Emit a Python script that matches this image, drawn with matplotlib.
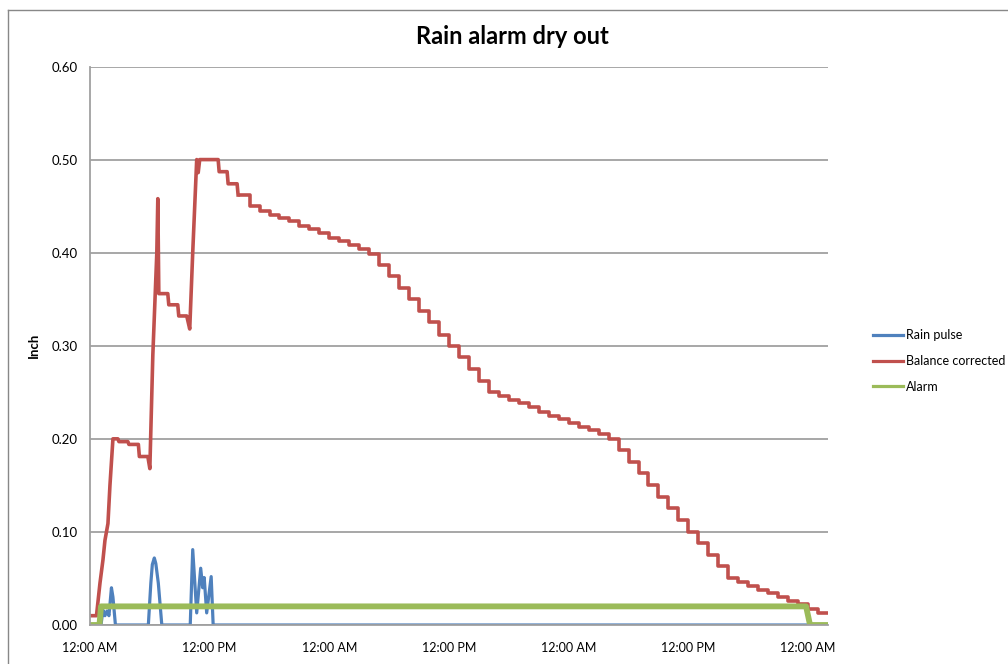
import numpy as np
import matplotlib
matplotlib.use("Agg")
from matplotlib import pyplot as plt
from matplotlib.lines import Line2D

plt.rcParams['font.family'] = ['Lato', 'DejaVu Sans']

# tempo in ore dall'inizio (12:00 AM)
# Rain pulse
rain_t = [0, 1.1, 1.3, 1.5, 1.7, 1.9, 2.15, 2.3, 2.55,
          5.85, 6.1, 6.25, 6.45, 6.6, 6.85, 7.2,
          10.05, 10.3, 10.7, 11.1, 11.3, 11.45, 11.7, 12.15, 12.35, 74]
rain_v = [0, 0, 0.016, 0.01, 0.015, 0.01, 0.04, 0.03, 0,
          0, 0.045, 0.065, 0.072, 0.066, 0.045, 0,
          0, 0.081, 0.013, 0.061, 0.04, 0.051, 0.013, 0.052, 0, 0]

# Balance corrected - prima parte (pioggia)
bal_t = [0, 0.65, 1.0, 1.3, 1.5, 1.8, 2.0, 2.3, 2.8, 2.9, 3.8, 3.9, 4.85, 4.95,
         5.8, 6.0, 6.3, 6.7, 6.8, 6.9, 7.8, 7.9, 8.8, 8.9, 9.7, 10.0, 10.3, 10.7,
         10.85, 11.0, 12.85, 12.95, 13.75, 13.85, 14.75, 14.85]
bal_v = [0.01, 0.01, 0.045, 0.07, 0.091, 0.109, 0.15, 0.20, 0.20, 0.197, 0.197, 0.194, 0.194, 0.181,
         0.181, 0.168, 0.29, 0.40, 0.458, 0.356, 0.356, 0.344, 0.344, 0.332, 0.332, 0.318, 0.40, 0.50,
         0.486, 0.50, 0.50, 0.487, 0.487, 0.474, 0.474, 0.462]

# Balance corrected - asciugatura, un valore per ora (dalle ore 15 alle 73)
dry_hours = np.arange(15, 75)
dry_v = [0.462,
         0.450, 0.445, 0.441, 0.437, 0.434, 0.429, 0.425, 0.421, 0.416, 0.412,
         0.408, 0.404, 0.399, 0.387, 0.375, 0.362, 0.350, 0.337, 0.325, 0.312,
         0.300, 0.288, 0.275, 0.262, 0.250, 0.246, 0.242, 0.238, 0.234, 0.229,
         0.225, 0.221, 0.217, 0.213, 0.209, 0.205, 0.200, 0.188, 0.175, 0.163,
         0.150, 0.138, 0.126, 0.113, 0.100, 0.088, 0.0755, 0.063, 0.0505, 0.0465,
         0.042, 0.038, 0.034, 0.030, 0.026, 0.023, 0.017, 0.013, 0.013]

# Alarm
alarm_t = [0, 0.95, 1.1, 71.8, 72.2, 74]
alarm_v = [0, 0, 0.02, 0.02, 0, 0]

tick_hours = [0, 12, 24, 36, 48, 60, 72]
tick_labels = ["12:00 AM", "12:00 PM", "12:00 AM", "12:00 PM", "12:00 AM", "12:00 PM", "12:00 AM"]

blu = '#4F81BD'
rosso = '#C0504D'
verde = '#9BBB59'
grigio = '#A0A0A0'

fig = plt.figure(figsize=(10.08, 6.64), dpi=100)
ax = fig.add_axes([90/1008, 1 - 625/664, (828 - 90)/1008, (625 - 66.5)/664])

ax.plot(rain_t, rain_v, color=blu, lw=2.3, label='Rain pulse')
ax.plot(bal_t, bal_v, color=rosso, lw=2.6, label='Balance corrected')
ax.step(dry_hours, dry_v, where='post', color=rosso, lw=2.6)
ax.plot(alarm_t, alarm_v, color=verde, lw=4.2, label='Alarm')

ax.set_xlim(0, 74)
ax.set_ylim(0, 0.6)
ax.set_yticks(np.arange(0, 0.61, 0.1))
ax.set_yticklabels([f"{v:.2f}" for v in np.arange(0, 0.61, 0.1)])
ax.set_xticks(tick_hours)
ax.set_xticklabels(tick_labels)
ax.tick_params(axis='both', length=0, colors='black')
ax.tick_params(axis='x', pad=12, labelsize=9)
ax.tick_params(axis='y', pad=9, labelsize=9.5)
ax.yaxis.grid(True, color=grigio, lw=1.3)
ax.set_axisbelow(True)
for s in ['top', 'right']:
    ax.spines[s].set_visible(False)
for s in ['left', 'bottom']:
    ax.spines[s].set_color(grigio)
    ax.spines[s].set_linewidth(1.3)

ax.set_ylabel("Inch", fontsize=9.5, fontweight='bold', labelpad=8)
fig.text(512/1008, 1 - 37/664, "Rain alarm dry out", ha='center', va='center',
         fontsize=17, fontweight='bold')

handles = [Line2D([], [], color=blu, lw=2.3),
           Line2D([], [], color=rosso, lw=2.3),
           Line2D([], [], color=verde, lw=2.3)]
fig.legend(handles, ['Rain pulse', 'Balance corrected', 'Alarm'],
           loc='upper left', bbox_to_anchor=(862/1008, 1 - 318/664), frameon=False,
           fontsize=9, handlelength=2.4, handletextpad=0.2, labelspacing=1.1)

# bordo dell'area grafico
fig.add_artist(Line2D([8/1008, 8/1008], [0, 1 - 10/664], transform=fig.transFigure, color='#888888', lw=1))
fig.add_artist(Line2D([8/1008, 1], [1 - 10/664, 1 - 10/664], transform=fig.transFigure, color='#888888', lw=1))

fig.savefig("out.png", dpi=100)
